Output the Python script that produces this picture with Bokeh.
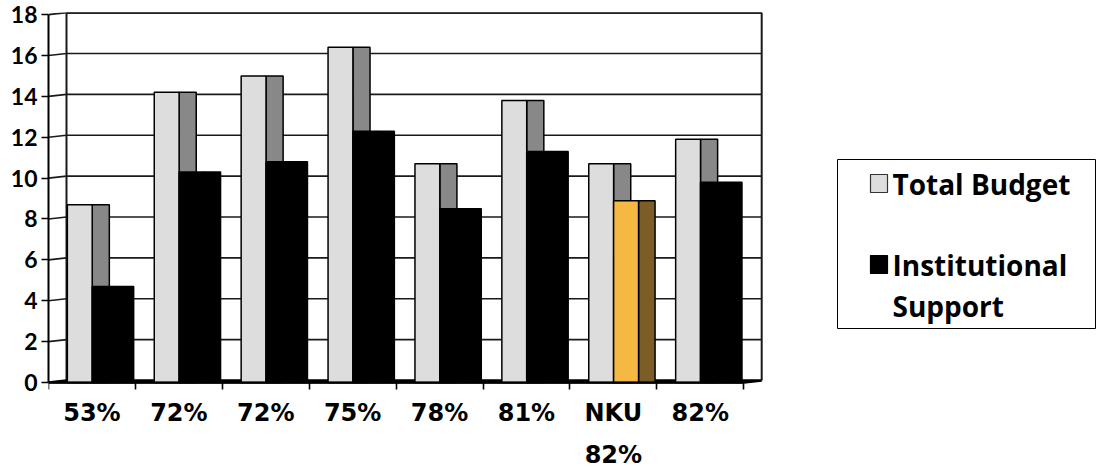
import numpy as np
from bokeh.plotting import figure
from bokeh.models import Range1d, FixedTicker, ColumnDataSource, LinearAxis
from bokeh.core.properties import value
from bokeh.embed import file_html
from bokeh.resources import INLINE

# ---------------- data ----------------
categories = ["53%", "72%", "72%", "75%", "78%", "81%", "NKU\n82%", "82%"]
total_budget = [8.6, 14.1, 14.9, 16.3, 10.6, 13.7, 10.6, 11.8]
institutional_support = [4.6, 10.2, 10.7, 12.2, 8.4, 11.2, 8.8, 9.7]
y_ticks = [0, 2, 4, 6, 8, 10, 12, 14, 16, 18]
series_names = ["Total Budget", "Institutional\nSupport"]
highlight_category = "NKU\n82%"

# ---------------- geometry / style ----------------
W, H = 1098, 467
FRAME_LEFT, FRAME_TOP, AXIS_Y = 48, 12, 382   # px of plot area; AXIS_Y = value 0
PX_X, PX_Y = 86.9, 20.44           # pixels per category / per unit
DX, DY = 18 / PX_X, 2 / PX_Y        # 3-D depth offset (back wall)
Y_MAX = max(y_ticks)
n = len(categories)

GRAY_FRONT, GRAY_SIDE = "#DDDDDD", "#888888"
BLACK = "#000000"
ORANGE_FRONT, ORANGE_SIDE = "#F4B843", "#7C5D25"


def sx(px):
    return (px - FRAME_LEFT) / PX_X


def sy(py):
    return (AXIS_Y - py) / PX_Y


p = figure(width=W, height=H,
           x_range=Range1d(0, sx(W)),
           y_range=Range1d(sy(H), sy(FRAME_TOP)),
           output_backend="svg", toolbar_location=None,
           min_border_left=FRAME_LEFT, min_border_right=0,
           min_border_top=FRAME_TOP, min_border_bottom=0)
p.outline_line_color = None
p.grid.visible = False
p.background_fill_color = "white"
p.border_fill_color = "white"

# ---- back wall, gridlines, floor ----
grid_vals = np.array(y_ticks[1:], dtype=float)
p.segment(x0=DX, y0=grid_vals + DY, x1=n + DX, y1=grid_vals + DY,
          line_color="#1a1a1a", line_width=1.6)
p.segment(x0=[DX], y0=[Y_MAX + DY], x1=[n + DX], y1=[Y_MAX + DY],
          line_color="black", line_width=2.5)
tick_vals = np.array(y_ticks, dtype=float)
p.segment(x0=0, y0=tick_vals, x1=DX, y1=tick_vals + DY,
          line_color="#1a1a1a", line_width=1.6)
p.segment(x0=[DX, n + DX], y0=[DY, DY], x1=[DX, n + DX], y1=[Y_MAX + DY, Y_MAX + DY],
          line_color="#1a1a1a", line_width=2)
p.patch(x=[0, n, n + DX, DX], y=[0, 0, DY, DY], fill_color="white",
        line_color="black", line_width=2.5)

# ---- bars ----
idx = np.arange(n)
tb = np.array(total_budget)
ins = np.array(institutional_support)
is_hl = np.array([c == highlight_category for c in categories])

src = ColumnDataSource(dict(
    tb_front_l=idx + 0.217, tb_front_r=idx + 0.503,
    tb_side_l=idx + 0.503, tb_side_r=idx + 0.70,
    in_front_l=idx + 0.503, in_front_r=idx + 0.79,
    in_side_l=idx + 0.79, in_side_r=idx + 0.98,
    tb_top=tb + DY, in_top=ins + DY,
    in_front_color=np.where(is_hl, ORANGE_FRONT, BLACK),
    in_side_color=np.where(is_hl, ORANGE_SIDE, BLACK),
))

p.quad(left="tb_side_l", right="tb_side_r", bottom=0, top="tb_top", source=src,
       fill_color=GRAY_SIDE, line_color="black", line_width=1.5)
p.quad(left="tb_front_l", right="tb_front_r", bottom=0, top="tb_top", source=src,
       fill_color=GRAY_FRONT, line_color="black", line_width=1.5)
p.quad(left="in_side_l", right="in_side_r", bottom=0, top="in_top", source=src,
       fill_color="in_side_color", line_color="black", line_width=1.5)
p.quad(left="in_front_l", right="in_front_r", bottom=0, top="in_top", source=src,
       fill_color="in_front_color", line_color="black", line_width=1.5)

# ---- y axis ----
ya = p.yaxis[0]
ya.ticker = FixedTicker(ticks=y_ticks)
ya.bounds = (0, Y_MAX)
ya.axis_line_color = "black"
ya.axis_line_width = 2
ya.major_tick_out = 7
ya.major_tick_in = 0
ya.major_tick_line_width = 1.6
ya.minor_tick_line_color = None
ya.major_label_text_font = "Lato"
ya.major_label_text_font_style = "bold"
ya.major_label_text_font_size = "23px"
ya.major_label_text_color = "black"
ya.major_label_standoff = 4

# ---- x axis: first label line + tick marks at category boundaries ----
line1 = [c.split("\n")[0] for c in categories]
line2 = [c.split("\n")[1] if "\n" in c else "" for c in categories]
centers = [float(i + 0.5) for i in idx]

xa = p.xaxis[0]
xa.fixed_location = 0
xa.ticker = FixedTicker(ticks=centers, minor_ticks=list(range(n + 1)))
xa.bounds = (0, n)
xa.axis_line_color = "black"
xa.axis_line_width = 2
xa.major_tick_out = 0
xa.major_tick_in = 0
xa.minor_tick_out = 7
xa.minor_tick_in = 0
xa.minor_tick_line_width = 1.6
xa.minor_tick_line_color = "black"
xa.major_label_overrides = {c: t for c, t in zip(centers, line1)}
xa.major_label_text_font = "DejaVu Sans"
xa.major_label_text_font_style = "bold"
xa.major_label_text_font_size = "24px"
xa.major_label_text_color = "black"
xa.major_label_standoff = 9

# second label line (only "82%" under NKU)
xa2 = LinearAxis(ticker=FixedTicker(ticks=centers), fixed_location=0)
xa2.bounds = (0, n)
xa2.axis_line_color = None
xa2.major_tick_line_color = None
xa2.minor_tick_line_color = None
xa2.major_tick_out = 0
xa2.major_tick_in = 0
xa2.minor_tick_out = 7
xa2.minor_tick_in = 0
xa2.major_label_overrides = {c: t for c, t in zip(centers, line2)}
xa2.major_label_text_font = "DejaVu Sans"
xa2.major_label_text_font_style = "bold"
xa2.major_label_text_font_size = "24px"
xa2.major_label_text_color = "black"
xa2.major_label_standoff = 58
p.add_layout(xa2, "below")

# ---- legend (drawn box, swatches and labels) ----
LEG_BOX = (837, 1095, 159, 328)          # left, right, top, bottom (px)
SWATCH_X = (870, 887)
SWATCH_TOPS = [174, 255]
SWATCH_SIZE = 18
LABEL_X = 892
LABEL_CAP_TO_TOP = 10

p.quad(left=[sx(LEG_BOX[0])], right=[sx(LEG_BOX[1])], top=[sy(LEG_BOX[2])],
       bottom=[sy(LEG_BOX[3])], fill_color="white", line_color="black", line_width=1)
leg_src = ColumnDataSource(dict(
    left=[sx(SWATCH_X[0])] * 2, right=[sx(SWATCH_X[1])] * 2,
    top=[sy(t) for t in SWATCH_TOPS], bottom=[sy(t + SWATCH_SIZE) for t in SWATCH_TOPS],
    fill=[GRAY_FRONT, BLACK], line=["#333333", "black"],
    tx=[sx(LABEL_X)] * 2, ty=[sy(t - LABEL_CAP_TO_TOP) for t in SWATCH_TOPS],
    label=series_names,
))
p.quad(left="left", right="right", top="top", bottom="bottom", source=leg_src,
       fill_color="fill", line_color="line", line_width=1.2)
p.text(x="tx", y="ty", text="label", source=leg_src,
       text_font=value("Open Sans"), text_font_style="bold", text_font_size="28px",
       text_baseline="top", text_align="left", text_line_height=1.1, text_color="black")

open("out.html", "w").write(file_html(p, INLINE))
